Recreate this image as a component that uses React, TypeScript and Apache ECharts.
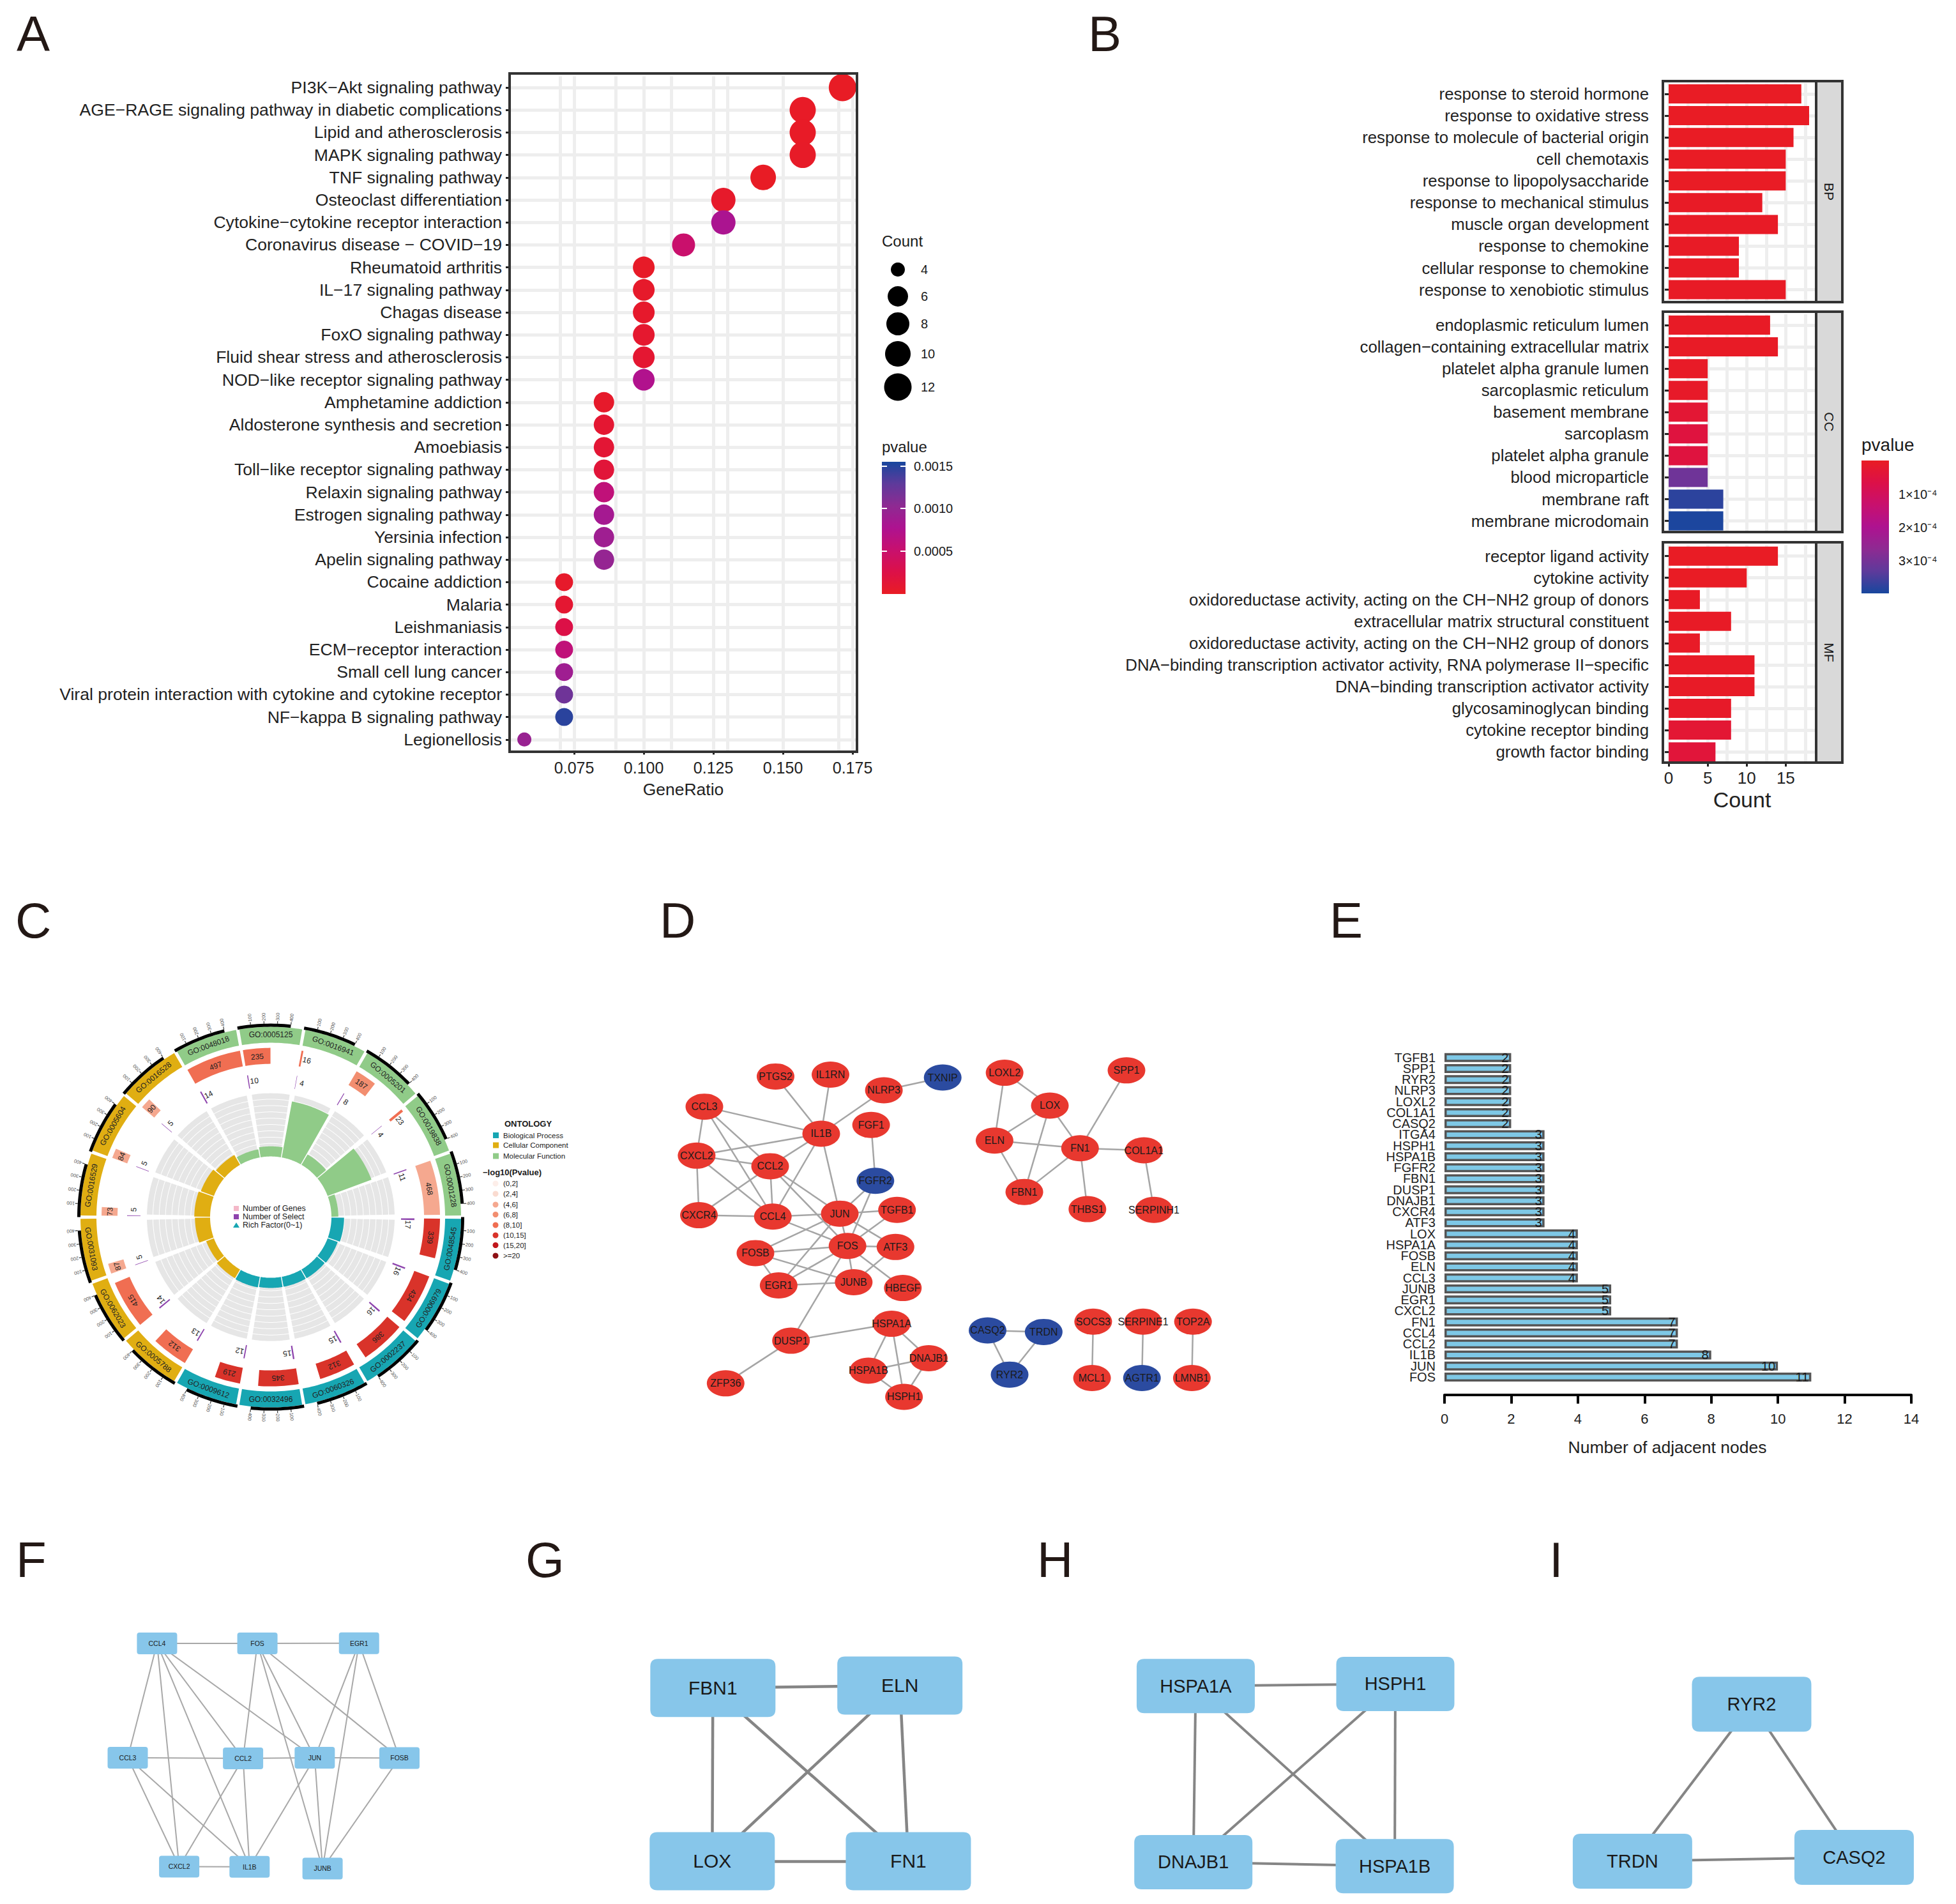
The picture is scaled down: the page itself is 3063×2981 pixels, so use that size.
import React, { useEffect, useRef } from "react";
import * as echarts from "echarts";

const FONT = "Liberation Sans";

// ---------- Panel A ----------
const pathwayNames = [
  "PI3K−Akt signaling pathway", "AGE−RAGE signaling pathway in diabetic complications", "Lipid and atherosclerosis",
  "MAPK signaling pathway", "TNF signaling pathway", "Osteoclast differentiation", "Cytokine−cytokine receptor interaction",
  "Coronavirus disease − COVID−19", "Rheumatoid arthritis", "IL−17 signaling pathway", "Chagas disease", "FoxO signaling pathway",
  "Fluid shear stress and atherosclerosis", "NOD−like receptor signaling pathway", "Amphetamine addiction",
  "Aldosterone synthesis and secretion", "Amoebiasis", "Toll−like receptor signaling pathway", "Relaxin signaling pathway",
  "Estrogen signaling pathway", "Yersinia infection", "Apelin signaling pathway", "Cocaine addiction", "Malaria", "Leishmaniasis",
  "ECM−receptor interaction", "Small cell lung cancer", "Viral protein interaction with cytokine and cytokine receptor",
  "NF−kappa B signaling pathway", "Legionellosis",
];
const pathwayRatios = [0.1714, 0.1571, 0.1571, 0.1571, 0.1429, 0.1286, 0.1286, 0.1143, 0.1, 0.1, 0.1, 0.1, 0.1, 0.1, 0.0857, 0.0857, 0.0857, 0.0857, 0.0857, 0.0857, 0.0857, 0.0857, 0.0714, 0.0714, 0.0714, 0.0714, 0.0714, 0.0714, 0.0714, 0.0571];
const pathwayCounts = [12, 11, 11, 11, 10, 9, 9, 8, 7, 7, 7, 7, 7, 7, 6, 6, 6, 6, 6, 6, 6, 6, 5, 5, 5, 5, 5, 5, 5, 4];
const pathwayP = [0.00001, 0.00002, 0.00002, 0.00003, 0.00001, 0.00005, 0.0008, 0.0005, 0.00003, 0.00005, 0.00006, 0.00008, 0.0001, 0.00075, 0.00005, 0.0001, 0.00012, 0.00015, 0.0006, 0.00085, 0.0009, 0.00098, 0.00005, 0.0001, 0.00025, 0.0006, 0.0009, 0.0012, 0.00148, 0.00095];
const ratioTicks = [0.075, 0.1, 0.125, 0.15, 0.175];
const countLegend = [4, 6, 8, 10, 12];
const pLegend = ["0.0015", "0.0010", "0.0005"];

// ---------- Panel B ----------
const bpNames = ["response to steroid hormone", "response to oxidative stress", "response to molecule of bacterial origin", "cell chemotaxis", "response to lipopolysaccharide", "response to mechanical stimulus", "muscle organ development", "response to chemokine", "cellular response to chemokine", "response to xenobiotic stimulus"];
const bpCounts = [17, 18, 16, 15, 15, 12, 14, 9, 9, 15];
const bpP = [2e-6, 2e-6, 2e-6, 2e-6, 2e-6, 3e-6, 3e-6, 3e-6, 3e-6, 4e-6];
const ccNames = ["endoplasmic reticulum lumen", "collagen−containing extracellular matrix", "platelet alpha granule lumen", "sarcoplasmic reticulum", "basement membrane", "sarcoplasm", "platelet alpha granule", "blood microparticle", "membrane raft", "membrane microdomain"];
const ccCounts = [13, 14, 5, 5, 5, 5, 5, 5, 7, 7];
const ccP = [3e-6, 3e-6, 5e-6, 1e-5, 3e-5, 5e-5, 5e-5, 3.1e-4, 3.8e-4, 3.95e-4];
const mfNames = ["receptor ligand activity", "cytokine activity", "oxidoreductase activity, acting on the CH−NH2 group of donors", "extracellular matrix structural constituent", "oxidoreductase activity, acting on the CH−NH2 group of donors", "DNA−binding transcription activator activity, RNA polymerase II−specific", "DNA−binding transcription activator activity", "glycosaminoglycan binding", "cytokine receptor binding", "growth factor binding"];
const mfCounts = [14, 10, 4, 8, 4, 11, 11, 8, 8, 6];
const mfP = [2e-6, 2e-6, 3e-6, 4e-6, 5e-6, 5e-6, 6e-6, 1e-5, 3e-5, 4e-5];
const countTicks = [0, 5, 10, 15];
const pLegendB = ["1×10⁻⁴", "2×10⁻⁴", "3×10⁻⁴"];

// ---------- Panel C (clockwise from 3 o'clock) ----------
const goIds = ["GO:0048545", "GO:0006979", "GO:0002237", "GO:0060326", "GO:0032496", "GO:0009612", "GO:0005788", "GO:0062023", "GO:0031093", "GO:0016529", "GO:0005604", "GO:0016528", "GO:0048018", "GO:0005125", "GO:0016941", "GO:0005201", "GO:0019838", "GO:0001228"];
const goOntology = [0, 0, 0, 0, 0, 0, 1, 1, 1, 1, 1, 1, 2, 2, 2, 2, 2, 2];
const goGenes = [339, 434, 386, 312, 345, 219, 312, 415, 87, 73, 84, 90, 497, 235, 16, 187, 23, 468];
const goSelect = [17, 16, 16, 15, 15, 12, 13, 14, 5, 5, 5, 5, 14, 10, 4, 8, 4, 11];
const goRich = [0.2, 0.17, 0.16, 0.16, 0.16, 0.17, 0.16, 0.13, 0.24, 0.25, 0.22, 0.18, 0.13, 0.16, 0.9, 0.19, 0.74, 0.11];
const goBin = [5, 5, 5, 5, 5, 5, 4, 4, 2, 2, 2, 2, 4, 4, 4, 3, 4, 2];
const ontologyNames = ["Biological Process", "Cellular Component", "Molecular Function"];
const pBinNames = ["(0,2]", "(2,4]", "(4,6]", "(6,8]", "(8,10]", "(10,15]", "(15,20]", ">=20"];
const scaleTicks = [100, 200, 300, 400];

// ---------- Panel D ----------
const dNodes: [string, number, number, number][] = [
  ["PTGS2", 354, 206, 0], ["IL1RN", 496, 199, 0], ["NLRP3", 634, 258, 0], ["TXNIP", 786, 210, 1], ["CCL3", 170, 320, 0], ["IL1B", 472, 422, 0], ["FGF1", 601, 389, 0], ["CXCL2", 150, 505, 0], ["CCL2", 340, 545, 0], ["FGFR2", 612, 600, 1], ["CXCR4", 156, 730, 0], ["CCL4", 347, 735, 0], ["JUN", 520, 724, 0], ["TGFB1", 668, 710, 0], ["FOS", 540, 846, 0], ["ATF3", 664, 850, 0], ["FOSB", 302, 873, 0], ["EGR1", 362, 995, 0], ["JUNB", 556, 983, 0], ["HBEGF", 683, 1005, 0], ["HSPA1A", 654, 1140, 0], ["DUSP1", 394, 1204, 0], ["DNAJB1", 750, 1270, 0], ["HSPA1B", 594, 1317, 0], ["HSPH1", 686, 1416, 0], ["ZFP36", 225, 1365, 0],
  ["LOXL2", 946, 192, 0], ["SPP1", 1261, 183, 0], ["LOX", 1063, 316, 0], ["ELN", 920, 448, 0], ["FN1", 1141, 477, 0], ["COL1A1", 1306, 485, 0], ["FBN1", 997, 642, 0], ["THBS1", 1160, 707, 0], ["SERPINH1", 1332, 710, 0],
  ["CASQ2", 902, 1165, 1], ["TRDN", 1047, 1171, 1], ["RYR2", 959, 1332, 1], ["SOCS3", 1175, 1132, 0], ["SERPINE1", 1304, 1132, 0], ["TOP2A", 1433, 1132, 0], ["MCL1", 1172, 1345, 0], ["AGTR1", 1301, 1345, 1], ["LMNB1", 1430, 1345, 0],
];
const dEdges = "PTGS2-IL1B IL1RN-IL1B NLRP3-IL1B NLRP3-TXNIP CCL3-IL1B CCL3-CXCL2 CCL3-CCL2 CCL3-CCL4 CXCL2-IL1B CXCL2-CCL2 CXCL2-CXCR4 CXCL2-CCL4 CCL2-IL1B CCL2-CXCR4 CCL2-CCL4 CCL2-JUN CCL2-FOS IL1B-CCL4 IL1B-JUN FGF1-FGFR2 FGFR2-JUN FGFR2-FOS CXCR4-CCL4 CCL4-JUN CCL4-FOS JUN-TGFB1 JUN-FOS JUN-ATF3 JUN-FOSB JUN-EGR1 TGFB1-FOS FOS-ATF3 FOS-FOSB FOS-EGR1 FOS-JUNB FOS-HBEGF FOS-DUSP1 ATF3-JUNB FOSB-JUNB FOSB-EGR1 EGR1-JUNB DUSP1-HSPA1A DUSP1-ZFP36 HSPA1A-HSPA1B HSPA1A-DNAJB1 HSPA1A-HSPH1 DNAJB1-HSPA1B DNAJB1-HSPH1 HSPA1B-HSPH1 LOXL2-ELN LOXL2-LOX LOX-ELN LOX-FBN1 LOX-FN1 ELN-FN1 ELN-FBN1 FBN1-FN1 SPP1-FN1 FN1-COL1A1 FN1-THBS1 COL1A1-SERPINH1 CASQ2-TRDN CASQ2-RYR2 TRDN-RYR2 SOCS3-MCL1 SERPINE1-AGTR1 TOP2A-LMNB1".split(" ");

// ---------- Panel E ----------
const hubNames = ["TGFB1", "SPP1", "RYR2", "NLRP3", "LOXL2", "COL1A1", "CASQ2", "ITGA4", "HSPH1", "HSPA1B", "FGFR2", "FBN1", "DUSP1", "DNAJB1", "CXCR4", "ATF3", "LOX", "HSPA1A", "FOSB", "ELN", "CCL3", "JUNB", "EGR1", "CXCL2", "FN1", "CCL4", "CCL2", "IL1B", "JUN", "FOS"];
const hubCounts = [2, 2, 2, 2, 2, 2, 2, 3, 3, 3, 3, 3, 3, 3, 3, 3, 4, 4, 4, 4, 4, 5, 5, 5, 7, 7, 7, 8, 10, 11];

// ---------- Panels F-I ----------
const fNodes: [string, number, number][] = [["CCL4", 241, 467], ["FOS", 395, 467], ["EGR1", 551, 466], ["CCL3", 196, 950], ["CCL2", 373, 953], ["JUN", 483, 950], ["FOSB", 613, 951], ["CXCL2", 275, 1410], ["IL1B", 383, 1411], ["JUNB", 495, 1418]];
const fEdges = "CCL4-FOS FOS-EGR1 CCL3-CCL2 CCL2-JUN JUN-FOSB CXCL2-IL1B CCL4-CCL3 CCL4-CXCL2 CCL4-IL1B CCL4-CCL2 CCL4-JUN FOS-CCL2 FOS-JUN FOS-JUNB FOS-FOSB EGR1-JUN EGR1-JUNB EGR1-FOSB CCL3-CXCL2 CCL3-IL1B CCL2-CXCL2 CCL2-IL1B JUN-IL1B JUN-JUNB FOSB-JUNB".split(" ");
const gNodes: [string, number, number][] = [["FBN1", 1094, 655], ["ELN", 1381, 645], ["LOX", 1093, 1387], ["FN1", 1394, 1387]];
const gEdges = "FBN1-ELN FBN1-LOX FBN1-FN1 ELN-LOX ELN-FN1 LOX-FN1".split(" ");
const hNodes: [string, number, number][] = [["HSPA1A", 292, 647], ["HSPH1", 627, 638], ["DNAJB1", 288, 1391], ["HSPA1B", 626, 1408]];
const hEdges = "HSPA1A-HSPH1 HSPA1A-DNAJB1 HSPA1A-HSPA1B HSPH1-DNAJB1 HSPH1-HSPA1B DNAJB1-HSPA1B".split(" ");
const iNodes: [string, number, number][] = [["RYR2", 1225, 724], ["TRDN", 1025, 1387], ["CASQ2", 1397, 1371]];
const iEdges = "RYR2-TRDN RYR2-CASQ2 TRDN-CASQ2".split(" ");

const panelLetters: [string, number, number][] = [["A", 26, 14], ["B", 1704, 14], ["C", 24, 1402], ["D", 1033, 1402], ["E", 2082, 1402], ["F", 25, 2403], ["G", 823, 2403], ["H", 1624, 2403], ["I", 2426, 2403]];

// ---------- styles ----------
const P_RAMP = ["#E91C24", "#DC1048", "#C8106E", "#AE1290", "#8E2A92", "#5E3A9B", "#17479E"];
const DOT_SIZE: Record<number, number> = { 4: 22, 5: 28, 6: 32, 7: 34, 8: 36, 9: 38, 10: 40, 11: 41, 12: 43 };
const ONT_COLORS = ["#17A6B2", "#E0AE12", "#90CB88"];
const BIN_COLORS = ["#FDEEE9", "#FADBD0", "#F5A88F", "#F28E70", "#F06E52", "#D9332A", "#C1171C", "#8E1014"];
const GRID_LINE = "#EEEEEE";
const FRAME = "#333333";

function txt(text: string, x: number, y: number, size: number, extra: any = {}) {
  return {
    type: "text", x, y, silent: true, rotation: extra.rotation || 0,
    style: { text, fontSize: size, fontFamily: FONT, fontWeight: extra.weight || "normal", fill: extra.fill || "#1a1a1a", align: extra.align || "left", verticalAlign: extra.vAlign || "middle" },
  };
}
function frame(x: number, y: number, w: number, h: number, fill = "none") {
  return { type: "rect", silent: true, shape: { x, y, width: w, height: h }, style: { fill, stroke: FRAME, lineWidth: 4 }, z: 50 };
}
function colorBar(x: number, y: number, w: number, h: number, colors: string[]) {
  const stops = colors.map((c, i) => ({ offset: i / (colors.length - 1), color: c }));
  return { type: "rect", silent: true, shape: { x, y, width: w, height: h }, style: { fill: new echarts.graphic.LinearGradient(0, 0, 0, 1, stops) } };
}
// rounded box stretched to the node size: corner radius r stays circular
function boxSymbol(w: number, h: number, r: number) {
  const rx = (r / w) * 100;
  const ry = (r / h) * 100;
  return `path://M${rx} 0H${100 - rx}Q100 0 100 ${ry}V${100 - ry}Q100 100 ${100 - rx} 100H${rx}Q0 100 0 ${100 - ry}V${ry}Q0 0 ${rx} 0Z`;
}

// network helpers
function netAxes(gridIndex: number) {
  return {
    x: { type: "value", gridIndex, min: 0, max: 1568, show: false },
    y: { type: "value", gridIndex, min: 0, max: 1568, inverse: true, show: false },
  };
}
function netSeries(gridIndex: number, nodes: any[], edges: string[], nodeStyle: any, edgeWidth: number, edgeColor: string) {
  return {
    type: "graph", coordinateSystem: "cartesian2d", xAxisIndex: gridIndex, yAxisIndex: gridIndex, layout: "none", silent: true, roam: false,
    symbol: nodeStyle.symbol, symbolSize: nodeStyle.size,
    label: { show: true, position: "inside", formatter: "{b}", fontSize: nodeStyle.font, fontFamily: FONT, color: "#1a1a1a" },
    itemStyle: { color: nodeStyle.color },
    lineStyle: { color: edgeColor, width: edgeWidth, opacity: 1, curveness: 0 },
    data: nodes.map((n) => ({ name: n[0], value: [n[1], n[2]], itemStyle: n[3] ? { color: nodeStyle.alt } : undefined })),
    links: edges.map((e) => { const [source, target] = e.split("-"); return { source, target }; }),
  };
}

// Panel C polar helpers (clockwise degrees from 12 o'clock, radius in px units of the grid's scale)
const sectorStart = (i: number) => 90 + 20 * i;
function polarPt(api: any, deg: number, r: number) {
  const a = (deg * Math.PI) / 180;
  return api.coord([r * Math.sin(a), r * Math.cos(a)]);
}
function wedge(api: any, t0: number, t1: number, r0: number, r1: number, fill: string) {
  const n = Math.max(1, Math.ceil(t1 - t0));
  const points: number[][] = [];
  for (let k = 0; k <= n; k++) points.push(polarPt(api, t0 + ((t1 - t0) * k) / n, r1));
  for (let k = n; k >= 0; k--) points.push(polarPt(api, t0 + ((t1 - t0) * k) / n, r0));
  return { type: "polygon", shape: { points }, style: { fill }, silent: true };
}
function arcText(api: any, text: string, deg: number, r: number, size: number, rotDeg: number, fill = "#222") {
  const p = polarPt(api, deg, r);
  return {
    type: "text", x: p[0], y: p[1], rotation: (-rotDeg * Math.PI) / 180, silent: true,
    style: { text, x: 0, y: 0, align: "center", verticalAlign: "middle", fontSize: size, fontFamily: FONT, fill },
  };
}
const DEG_PER_GENE = 0.04;
const sectorData = goIds.map((_, i) => [i, 0]);

const renderOuter = (_: any, api: any) => {
  const i = api.value(0);
  const s = sectorStart(i);
  const mid = s + 10;
  const norm = ((mid % 360) + 360) % 360;
  const flip = norm > 90 && norm < 270;
  const children: any[] = [
    wedge(api, s + 0.5, s + 19.5, 273, 298, ONT_COLORS[goOntology[i]]),
    arcText(api, goIds[i], mid, 285.5, 12, flip ? mid + 180 : mid),
    wedge(api, s, s + 16, 298, 303, "#000000"),
  ];
  scaleTicks.forEach((t) => {
    const d = s + t * DEG_PER_GENE;
    children.push(wedge(api, d - 0.12, d + 0.12, 303, 307, "#444"));
    children.push(arcText(api, String(t), d, 314, 7.5, d - 90, "#555"));
  });
  return { type: "group", children };
};
const renderGenes = (_: any, api: any) => {
  const i = api.value(0);
  const s = sectorStart(i) + 0.5;
  const w = Math.min(goGenes[i] * DEG_PER_GENE, 19);
  const labelAt = w < 1.5 ? s + w + 1.8 : s + w / 2;
  return { type: "group", children: [wedge(api, s, s + w, 240, 265, BIN_COLORS[goBin[i]]), arcText(api, String(goGenes[i]), labelAt, 252, 12, labelAt)] };
};
const renderSelect = (_: any, api: any) => {
  const i = api.value(0);
  const s = sectorStart(i) + 0.5;
  const w = goSelect[i] * DEG_PER_GENE;
  const labelAt = s + 2.6;
  return { type: "group", children: [wedge(api, s, s + w, 204, 225, "#8E44AD"), arcText(api, String(goSelect[i]), labelAt, 215, 12, labelAt)] };
};
const renderRich = (_: any, api: any) => {
  const i = api.value(0);
  const s = sectorStart(i);
  const children: any[] = [];
  for (let b = 0; b < 10; b++) children.push(wedge(api, s + 1.2, s + 18.8, 95 + b * 9.9 + 1, 95 + (b + 1) * 9.9, "#E6E6E6"));
  children.push(wedge(api, s + 0.4, s + 19.6, 95, 95 + goRich[i] * 99, ONT_COLORS[goOntology[i]]));
  return { type: "group", children };
};

function buildOption(): any {
  const netA = [netAxes(5), netAxes(7), netAxes(8)];
  const bGrids = [
    { top: 130, height: 340.6 },
    { top: 492, height: 340.6 },
    { top: 853.6, height: 340.6 },
  ];
  const bNames = [bpNames, ccNames, mfNames];

  const graphic: any[] = [];
  panelLetters.forEach(([t, x, y]) => graphic.push(txt(t, x, y, 78, { vAlign: "top", fill: "#231815" })));
  // A frame + legends
  graphic.push(frame(798, 115, 544, 1062));
  graphic.push(txt("Count", 1381, 377, 24));
  const countYs = [422, 464, 507, 554, 606];
  countLegend.forEach((c, i) => {
    graphic.push({ type: "circle", silent: true, shape: { cx: 1406, cy: countYs[i], r: DOT_SIZE[c] / 2 }, style: { fill: "#000" } });
    graphic.push(txt(String(c), 1442, countYs[i], 20));
  });
  graphic.push(txt("pvalue", 1381, 699, 24));
  graphic.push(colorBar(1381, 723, 37, 207, [...P_RAMP].reverse()));
  const pYs = [730, 796, 863];
  pLegend.forEach((t, i) => {
    graphic.push(txt(t, 1431, pYs[i], 20));
    graphic.push({ type: "rect", silent: true, shape: { x: 1381, y: pYs[i] - 1, width: 8, height: 2 }, style: { fill: "#fff" } });
    graphic.push({ type: "rect", silent: true, shape: { x: 1410, y: pYs[i] - 1, width: 8, height: 2 }, style: { fill: "#fff" } });
  });
  // B frames + strips + legend
  const bFrames = [[127, 346], [488, 345], [849, 345]];
  const strips = ["BP", "CC", "MF"];
  bFrames.forEach(([y, h], i) => {
    graphic.push(frame(2604, y, 240, h));
    graphic.push(frame(2844, y, 41, h, "#D9D9D9"));
    graphic.push({ ...txt(strips[i], 2864, y + h / 2, 21, { align: "center", rotation: -Math.PI / 2 }), z: 60 });
  });
  graphic.push(txt("pvalue", 2915, 696, 28));
  graphic.push(colorBar(2915, 721, 43, 208, P_RAMP));
  const pBYs = [774, 826, 878];
  pLegendB.forEach((t, i) => graphic.push(txt(t, 2973, pBYs[i], 20)));
  // C legends
  graphic.push(txt("ONTOLOGY", 827, 1759, 13, { align: "center", weight: "bold" }));
  const ontYs = [1777.5, 1793, 1810];
  ontologyNames.forEach((t, i) => {
    graphic.push({ type: "rect", silent: true, shape: { x: 772, y: ontYs[i] - 4.5, width: 9, height: 9 }, style: { fill: ONT_COLORS[i] } });
    graphic.push(txt(t, 788, ontYs[i], 11.5));
  });
  graphic.push(txt("−log10(Pvalue)", 756, 1835, 13, { weight: "bold" }));
  const binYs = [1853, 1869, 1886, 1901.5, 1918, 1934, 1949.5, 1966];
  pBinNames.forEach((t, i) => {
    graphic.push({ type: "circle", silent: true, shape: { cx: 776, cy: binYs[i], r: 4.5 }, style: { fill: BIN_COLORS[i] } });
    graphic.push(txt(t, 788, binYs[i], 11.5));
  });
  graphic.push({ type: "rect", silent: true, shape: { x: 366, y: 1888, width: 8, height: 8 }, style: { fill: "#F4B8C8" } });
  graphic.push(txt("Number of Genes", 380, 1892, 12.5));
  graphic.push({ type: "rect", silent: true, shape: { x: 366, y: 1901, width: 8, height: 8 }, style: { fill: "#8E44AD" } });
  graphic.push(txt("Number of Select", 380, 1905, 12.5));
  graphic.push({ type: "polygon", silent: true, shape: { points: [[370, 1914], [375, 1922], [365, 1922]] }, style: { fill: ONT_COLORS[0] } });
  graphic.push(txt("Rich Factor(0~1)", 380, 1918, 12.5));

  const cAxis = (gridIndex: number) => ({ type: "value", gridIndex, min: -330, max: 330, show: false });

  const xAxis: any[] = [
    {
      type: "value", gridIndex: 0, min: 0.0518, max: 0.1766, splitNumber: 5,
      axisLine: { show: false },
      axisTick: { show: true, length: 6, customValues: ratioTicks, lineStyle: { color: "#222", width: 3 } },
      axisLabel: { customValues: ratioTicks, formatter: (v: number) => v.toFixed(3), fontSize: 25, fontFamily: FONT, color: "#222", margin: 14 },
      splitLine: { show: true, lineStyle: { color: GRID_LINE, width: 5 } },
      minorTick: { show: false, splitNumber: 2 },
      minorSplitLine: { show: true, lineStyle: { color: GRID_LINE, width: 5 } },
      name: "GeneRatio", nameLocation: "middle", nameGap: 47,
      nameTextStyle: { fontSize: 26.5, fontFamily: FONT, color: "#222" },
    },
    ...[1, 2, 3].map((g) => ({
      type: "value", gridIndex: g, min: -0.74, max: 18.9, splitNumber: 4,
      axisLine: { show: false },
      axisTick: { show: g === 3, length: 6, customValues: countTicks, lineStyle: { color: "#222", width: 3 } },
      axisLabel: { show: g === 3, customValues: countTicks, fontSize: 26, fontFamily: FONT, color: "#222", margin: 11 },
      splitLine: { show: true, lineStyle: { color: GRID_LINE, width: 5 } },
      minorTick: { show: false, splitNumber: 2 },
      minorSplitLine: { show: true, lineStyle: { color: GRID_LINE, width: 5 } },
      name: g === 3 ? "Count" : "", nameLocation: "middle", nameGap: 41,
      nameTextStyle: { fontSize: 34, fontFamily: FONT, color: "#222", padding: [0, 0, 0, 8] },
    })),
    cAxis(4),
    netA[0].x,
    {
      type: "value", gridIndex: 6, min: 0, max: 14, interval: 2, offset: 19,
      axisLine: { show: true, onZero: false, lineStyle: { color: "#000", width: 4 } },
      axisTick: { show: true, length: 14, lineStyle: { color: "#000", width: 4 } },
      axisLabel: { fontSize: 22, fontFamily: FONT, color: "#222", margin: 27 },
      splitLine: { show: false },
      name: "Number of adjacent nodes", nameLocation: "middle", nameGap: 69,
      nameTextStyle: { fontSize: 26.5, fontFamily: FONT, color: "#222", padding: [0, 33, 0, 0] },
    },
    netA[1].x,
    netA[2].x,
  ];
  const yAxis: any[] = [
    {
      type: "category", gridIndex: 0, data: pathwayNames, inverse: true,
      axisLine: { show: false },
      axisTick: { show: true, alignWithLabel: true, length: 6, lineStyle: { color: "#222", width: 3 } },
      axisLabel: { interval: 0, fontSize: 26.6, fontFamily: FONT, color: "#222", margin: 12 },
      splitLine: { show: true, alignWithLabel: true, interval: 0, lineStyle: { color: GRID_LINE, width: 5 } },
    },
    ...[1, 2, 3].map((g) => ({
      type: "category", gridIndex: g, data: bNames[g - 1], inverse: true,
      axisLine: { show: false },
      axisTick: { show: true, alignWithLabel: true, length: 6, lineStyle: { color: "#222", width: 3 } },
      axisLabel: { interval: 0, fontSize: 25.8, fontFamily: FONT, color: "#222", margin: 22 },
      splitLine: { show: true, alignWithLabel: true, interval: 0, lineStyle: { color: GRID_LINE, width: 5 } },
    })),
    cAxis(4),
    netA[0].y,
    {
      type: "category", gridIndex: 6, data: hubNames, inverse: true,
      axisLine: { show: false }, axisTick: { show: false },
      axisLabel: { interval: 0, fontSize: 20, fontFamily: FONT, color: "#222", margin: 14 },
      splitLine: { show: false },
    },
    netA[1].y,
    netA[2].y,
  ];
  const series: any[] = [
    {
      type: "scatter", xAxisIndex: 0, yAxisIndex: 0, silent: true, clip: false,
      encode: { x: 0, y: 1 },
      itemStyle: { opacity: 1 },
      symbolSize: (v: number[]) => DOT_SIZE[v[2]],
      data: pathwayRatios.map((r, i) => [r, i, pathwayCounts[i], pathwayP[i]]),
    },
    ...[[bpCounts, bpP], [ccCounts, ccP], [mfCounts, mfP]].map(([c, p], k) => ({
      type: "bar", xAxisIndex: k + 1, yAxisIndex: k + 1, silent: true, barWidth: 30,
      encode: { x: 0, y: 1 },
      data: c.map((v, i) => [v, i, p[i]]),
    })),
    { type: "custom", coordinateSystem: "cartesian2d", xAxisIndex: 4, yAxisIndex: 4, silent: true, clip: false, renderItem: renderRich, data: sectorData, encode: { x: 0, y: 1 } },
    { type: "custom", coordinateSystem: "cartesian2d", xAxisIndex: 4, yAxisIndex: 4, silent: true, clip: false, renderItem: renderSelect, data: sectorData, encode: { x: 0, y: 1 } },
    { type: "custom", coordinateSystem: "cartesian2d", xAxisIndex: 4, yAxisIndex: 4, silent: true, clip: false, renderItem: renderGenes, data: sectorData, encode: { x: 0, y: 1 } },
    { type: "custom", coordinateSystem: "cartesian2d", xAxisIndex: 4, yAxisIndex: 4, silent: true, clip: false, renderItem: renderOuter, data: sectorData, encode: { x: 0, y: 1 } },
    netSeries(5, dNodes, dEdges, { symbol: "circle", size: [59, 41], font: 16, color: "#E8382F", alt: "#2B4BA0" }, 2.5, "#A5A5A5"),
    {
      type: "bar", xAxisIndex: 6, yAxisIndex: 6, silent: true, barWidth: 14,
      itemStyle: { color: "#7EC8E6", borderColor: "#555555", borderWidth: 3.5 },
      label: { show: true, position: "insideRight", distance: 4, fontSize: 20, fontFamily: FONT, color: "#1a1a1a" },
      data: hubCounts,
    },
    netSeries(7, fNodes, fEdges, { symbol: boxSymbol(63, 34, 4), size: [63, 34], font: 10.5, color: "#87C6EA" }, 2, "#A8A8A8"),
    netSeries(7, gNodes, gEdges, { symbol: boxSymbol(196, 91, 12), size: [196, 91], font: 30, color: "#87C6EA" }, 4.5, "#858585"),
    netSeries(8, hNodes, hEdges, { symbol: boxSymbol(185, 85, 12), size: [185, 85], font: 29, color: "#87C6EA" }, 4, "#858585"),
    netSeries(8, iNodes, iEdges, { symbol: boxSymbol(187, 86, 12), size: [187, 86], font: 29, color: "#87C6EA" }, 4, "#858585"),
  ];

  return {
    animation: false,
    backgroundColor: "#ffffff",
    textStyle: { fontFamily: FONT },
    grid: [
      { left: 798, top: 119.4, width: 544, height: 1056 },
      ...bGrids.map((g) => ({ left: 2604, width: 240, top: g.top, height: g.height })),
      { left: 424 - 330, top: 1905.6 - 330, width: 660, height: 660 },
      { left: 1000, top: 1600, width: 950, height: 650 },
      { left: 2262, top: 1647, width: 731, height: 517.6 },
      { left: 0, top: 2400, width: 1600, height: 581 },
      { left: 1600, top: 2400, width: 1463, height: 581 },
    ],
    xAxis, yAxis, series,
    visualMap: [
      { show: false, type: "continuous", seriesIndex: 0, dimension: 3, min: 0, max: 0.00155, inRange: { color: P_RAMP } },
      { show: false, type: "continuous", seriesIndex: [1, 2, 3], dimension: 2, min: 0, max: 0.0004, inRange: { color: P_RAMP } },
    ],
    graphic: { elements: graphic },
  };
}

export default function App() {
  const ref = useRef<HTMLDivElement>(null);
  useEffect(() => {
    document.body.style.margin = "0";
    const chart = echarts.init(ref.current!, undefined, { renderer: "svg", width: 3063, height: 2981 });
    chart.setOption(buildOption());
    return () => chart.dispose();
  }, []);
  return <div ref={ref} style={{ position: "absolute", left: 0, top: 0, width: 3063, height: 2981 }} />;
}
